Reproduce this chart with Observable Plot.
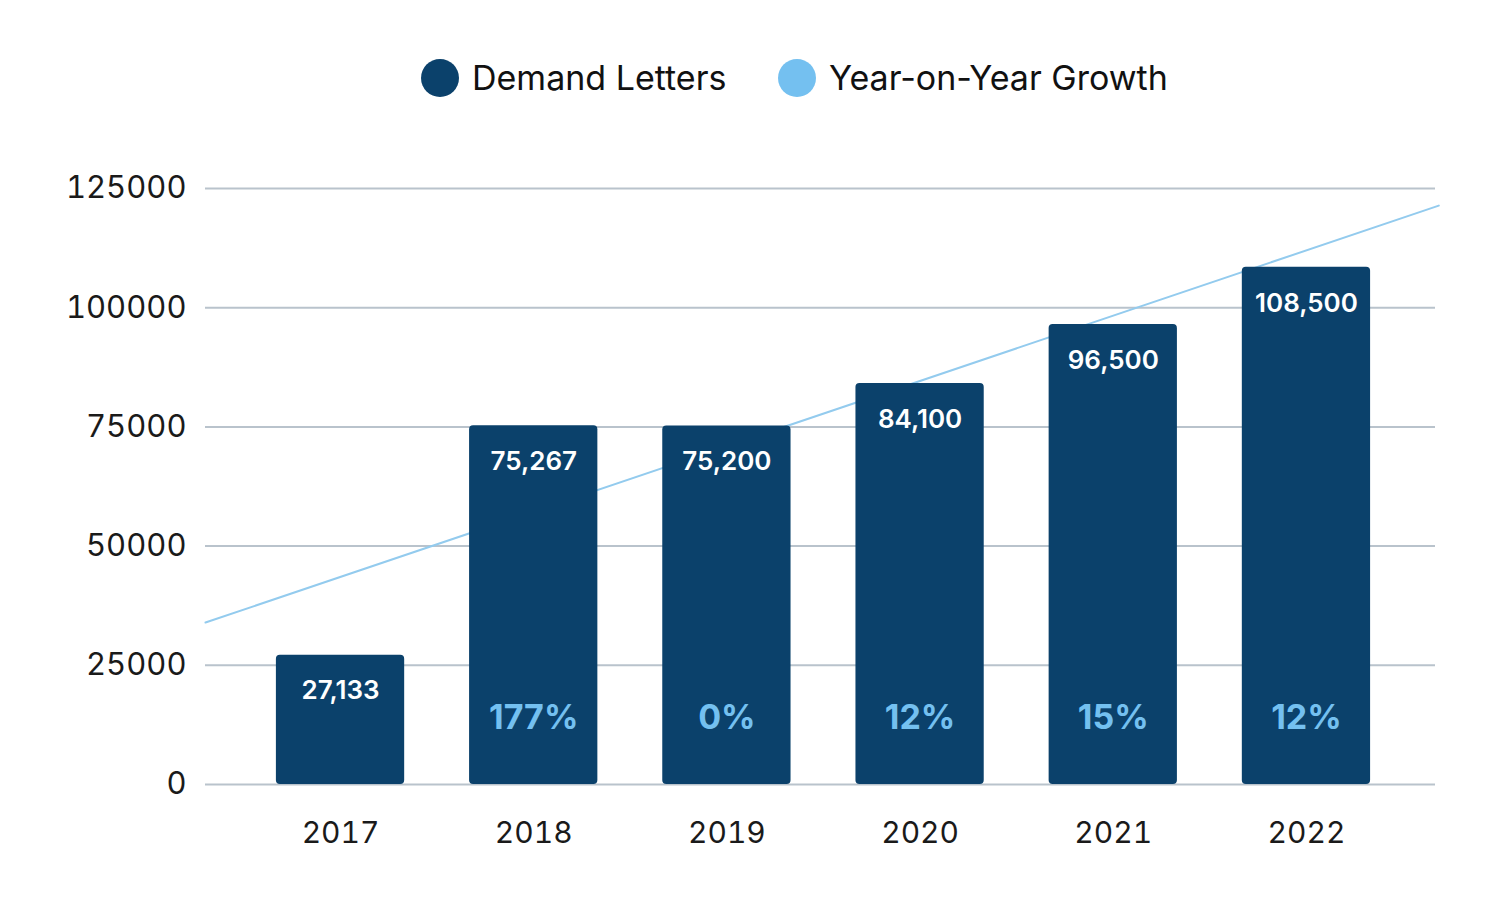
<!DOCTYPE html>
<html>
<head>
<meta charset="utf-8">
<script src="https://cdn.jsdelivr.net/npm/d3@7"></script>
<script src="https://cdn.jsdelivr.net/npm/@observablehq/plot@0.6"></script>
<style>
  body { margin: 0; background: #fff; font-family: Inter, "Noto Sans", sans-serif; }
  #legend { height: 130px; position: relative; }
  .item { position: absolute; top: 59px; display: flex; align-items: center; gap: 13px; font-size: 34px; line-height: 38px; color: #111; }
  .sw { width: 38px; height: 38px; border-radius: 50%; display: inline-block; flex: none; }
</style>
</head>
<body>
<div id="legend"></div>
<div id="chart"></div>
<script>
const years = [2017, 2018, 2019, 2020, 2021, 2022];
const letters = [27133, 75267, 75200, 84100, 96500, 108500];
const growth = ["", "177%", "0%", "12%", "15%", "12%"];
const yTicks = [0, 25000, 50000, 75000, 100000, 125000];
const seriesNames = ["Demand Letters", "Year-on-Year Growth"];
const seriesColors = ["#0b416b", "#74c0f0"];
const legendLeft = [421, 778];

const data = years.map((y, i) => ({year: y, value: letters[i], growth: growth[i]}));

// legend
const legend = document.getElementById("legend");
seriesNames.forEach((n, i) => {
  const it = document.createElement("div");
  it.className = "item";
  it.style.left = legendLeft[i] + "px";
  it.innerHTML = `<span class="sw" style="background:${seriesColors[i]}"></span><span>${n}</span>`;
  legend.appendChild(it);
});

// linear trend (least squares) of the letters, drawn across the plot
const xDomain = [2016.301, 2022.668];
const trendDomain = [2016.301, 2022.685];
const mx = d3.mean(years), my = d3.mean(letters);
const slope = d3.sum(years, (x, i) => (x - mx) * (letters[i] - my)) / d3.sum(years, x => (x - mx) ** 2);
const trend = trendDomain.map(x => ({x, y: my + slope * (x - mx)}));

const half = 0.332;
const chart = Plot.plot({
  width: 1500,
  height: 778,
  marginTop: 58,
  marginBottom: 124,
  marginLeft: 205,
  marginRight: 65,
  style: {fontFamily: "Inter, 'Noto Sans', sans-serif", background: "#fff", overflow: "visible"},
  x: {domain: xDomain, ticks: years, tickFormat: d => String(d), tickSize: 0, tickPadding: 37, label: null},
  y: {domain: [0, 125000], ticks: yTicks, tickFormat: d => String(d), tickSize: 0, tickPadding: 19, label: null},
  marks: [
    Plot.ruleY(yTicks, {stroke: "#b9c3cc", strokeWidth: 2}),
    Plot.line(trend, {x: "x", y: "y", stroke: "#93cbee", strokeWidth: 2, clip: false}),
    Plot.rectY(data, {x1: d => d.year - half, x2: d => d.year + half, y1: 0, y2: "value", fill: seriesColors[0], rx: 4}),
    Plot.text(data, {x: "year", y: "value", text: d => d3.format(",")(d.value), dy: 36, fill: "#fff", fontSize: 26, fontWeight: 600}),
    Plot.text(data, {x: "year", y: 0, text: "growth", dy: -66, fill: seriesColors[1], fontSize: 34, fontWeight: 700})
  ]
});
chart.querySelectorAll('[aria-label="x-axis tick label"], [aria-label="y-axis tick label"]').forEach(g => {
  g.setAttribute("font-size", "30");
  g.style.fontSize = "30px";
  g.setAttribute("fill", "#1a1a1a");
});
chart.querySelectorAll('[aria-label="y-axis tick label"]').forEach(g => {
  g.setAttribute("font-size", "31");
  g.style.fontSize = "31px";
});
document.getElementById("chart").appendChild(chart);
</script>
</body>
</html>
